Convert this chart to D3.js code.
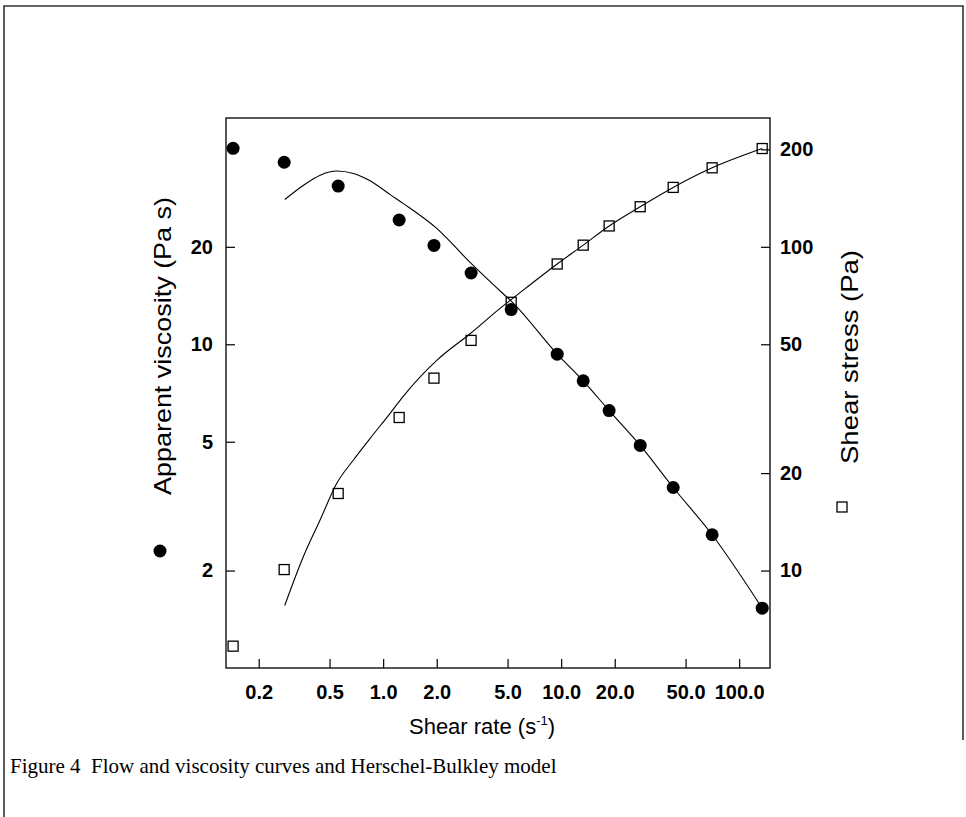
<!DOCTYPE html>
<html>
<head>
<meta charset="utf-8">
<script src="https://cdn.jsdelivr.net/npm/d3@7"></script>
<style>
  body { margin: 0; background: #fff; }
  text { font-family: "Liberation Sans", Arial, sans-serif; fill: #000; }
  .tick text { font-size: 20px; font-weight: bold; }
  .caption { font-family: "Liberation Serif", "Times New Roman", serif; font-size: 21px; white-space: pre; }
</style>
</head>
<body>
<div id="chart"></div>
<script>
var shearRate = [0.1436, 0.278, 0.559, 1.23, 1.93, 3.12, 5.24, 9.5, 13.3, 18.6, 27.8, 42.6, 70.5, 134.7];
var viscosity = [40.3, 36.5, 30.8, 24.2, 20.2, 16.6, 12.8, 9.32, 7.71, 6.24, 4.87, 3.61, 2.58, 1.53];
var stress = [5.84, 10.07, 17.3, 29.7, 39.3, 51.4, 67.4, 88.5, 101.2, 116, 133, 152.6, 175.4, 201.2];

// Herschel-Bulkley model lines (traced)
var modelRate = [0.28, 0.357, 0.443, 0.549, 0.681, 0.845, 1.095, 1.30, 2.00, 3.08, 4.74, 5.24, 9.5, 13.3, 18.6, 27.8, 42.6, 70.5, 134.7];
var modelViscosity = [28.0, 31.0, 33.3, 34.3, 33.7, 32.0, 29.0, 27.2, 22.8, 17.9, 14.3, 13.6, 9.32, 7.71, 6.24, 4.87, 3.61, 2.58, 1.53];
var modelStress = [7.80, 11.07, 14.35, 18.6, 21.96, 25.6, 30.6, 34.6, 44.6, 53.9, 65.8, 68.7, 88.5, 101.2, 116, 133, 152.6, 175.4, 201.2];

// tick labels
var xTicks = [0.2, 0.5, 1, 2, 5, 10, 20, 50, 100];
var leftTicks = [2, 5, 10, 20];
var rightTicks = [10, 20, 50, 100, 200];

var W = 966, H = 817;
var plot = { left: 226, right: 770, top: 118, bottom: 668 };

var svg = d3.select("#chart").append("svg")
  .attr("width", W)
  .attr("height", H);

svg.append("rect").attr("width", W).attr("height", H).attr("fill", "#fff");

/******** page border ********/
svg.append("path")
  .attr("d", "M4,817 V6 H963 V740")
  .attr("fill", "none")
  .attr("stroke", "#333")
  .attr("stroke-width", 1.6);

/******** scales ********/
var x = d3.scaleLog().domain([0.131, 149]).range([plot.left, plot.right]);
var yL = d3.scaleLog().domain([1, 50]).range([plot.bottom, plot.top]);
var yR = d3.scaleLog().domain([5, 250]).range([plot.bottom, plot.top]);

/******** axes (ticks point inward) ********/
var xAxis = d3.axisBottom(x)
  .tickValues(xTicks)
  .tickFormat(d3.format(".1f"))
  .tickSizeInner(-9).tickSizeOuter(0).tickPadding(17);
var leftAxis = d3.axisLeft(yL)
  .tickValues(leftTicks)
  .tickFormat(d3.format("d"))
  .tickSizeInner(-9).tickSizeOuter(0).tickPadding(13);
var rightAxis = d3.axisRight(yR)
  .tickValues(rightTicks)
  .tickFormat(d3.format("d"))
  .tickSizeInner(-9).tickSizeOuter(0).tickPadding(10);

svg.append("g").attr("transform", "translate(0," + plot.bottom + ")").call(xAxis);
svg.append("g").attr("transform", "translate(" + plot.left + ",0)").call(leftAxis);
svg.append("g").attr("transform", "translate(" + plot.right + ",0)").call(rightAxis);

svg.selectAll(".domain").remove();
svg.selectAll(".tick line").attr("stroke", "#000").attr("stroke-width", 1.2);
svg.selectAll(".tick text").attr("fill", "#000");

svg.append("rect")
  .attr("x", plot.left)
  .attr("y", plot.top)
  .attr("width", plot.right - plot.left)
  .attr("height", plot.bottom - plot.top)
  .attr("fill", "none")
  .attr("stroke", "#111")
  .attr("stroke-width", 1.4);

/******** model lines ********/
var model = modelRate.map(function (r, i) { return [r, modelViscosity[i], modelStress[i]]; });

var viscLine = d3.line()
  .x(function (d) { return x(d[0]); })
  .y(function (d) { return yL(d[1]); })
  .curve(d3.curveMonotoneX);
var stressLine = d3.line()
  .x(function (d) { return x(d[0]); })
  .y(function (d) { return yR(d[2]); })
  .curve(d3.curveMonotoneX);

svg.append("path").datum(model)
  .attr("d", viscLine)
  .attr("fill", "none").attr("stroke", "#000").attr("stroke-width", 1.1);
svg.append("path").datum(model)
  .attr("d", stressLine)
  .attr("fill", "none").attr("stroke", "#000").attr("stroke-width", 1.1);

/******** points ********/
var points = shearRate.map(function (r, i) { return [r, viscosity[i], stress[i]]; });

svg.selectAll(".visc")
  .data(points)
  .enter().append("circle")
  .attr("class", "visc")
  .attr("cx", function (d) { return x(d[0]); })
  .attr("cy", function (d) { return yL(d[1]); })
  .attr("r", 6.5)
  .attr("fill", "#000");

var sq = 10;
svg.selectAll(".stress")
  .data(points)
  .enter().append("rect")
  .attr("class", "stress")
  .attr("x", function (d) { return x(d[0]) - sq / 2; })
  .attr("y", function (d) { return yR(d[2]) - sq / 2; })
  .attr("width", sq)
  .attr("height", sq)
  .attr("fill", "none")
  .attr("stroke", "#000")
  .attr("stroke-width", 1.3);

/******** axis titles + legend symbols ********/
svg.append("text")
  .attr("transform", "translate(171,346) rotate(-90)")
  .attr("text-anchor", "middle")
  .attr("font-size", 24)
  .attr("textLength", 298)
  .attr("lengthAdjust", "spacingAndGlyphs")
  .text("Apparent viscosity (Pa s)");
svg.append("circle").attr("cx", 160).attr("cy", 551).attr("r", 6.5).attr("fill", "#000");

svg.append("text")
  .attr("transform", "translate(858,357) rotate(-90)")
  .attr("text-anchor", "middle")
  .attr("font-size", 24)
  .attr("textLength", 214)
  .attr("lengthAdjust", "spacingAndGlyphs")
  .text("Shear stress (Pa)");
svg.append("rect").attr("x", 837).attr("y", 502).attr("width", sq).attr("height", sq)
  .attr("fill", "none").attr("stroke", "#000").attr("stroke-width", 1.3);

var xt = svg.append("text")
  .attr("x", 482)
  .attr("y", 734)
  .attr("text-anchor", "middle")
  .attr("font-size", 22);
xt.append("tspan").text("Shear rate (s");
xt.append("tspan").attr("font-size", 13).attr("dy", -9).text("-1");
xt.append("tspan").attr("dy", 9).text(")");

/******** caption ********/
svg.append("text")
  .attr("class", "caption")
  .attr("x", 10)
  .attr("y", 773)
  .text("Figure 4  Flow and viscosity curves and Herschel-Bulkley model");
</script>
</body>
</html>
